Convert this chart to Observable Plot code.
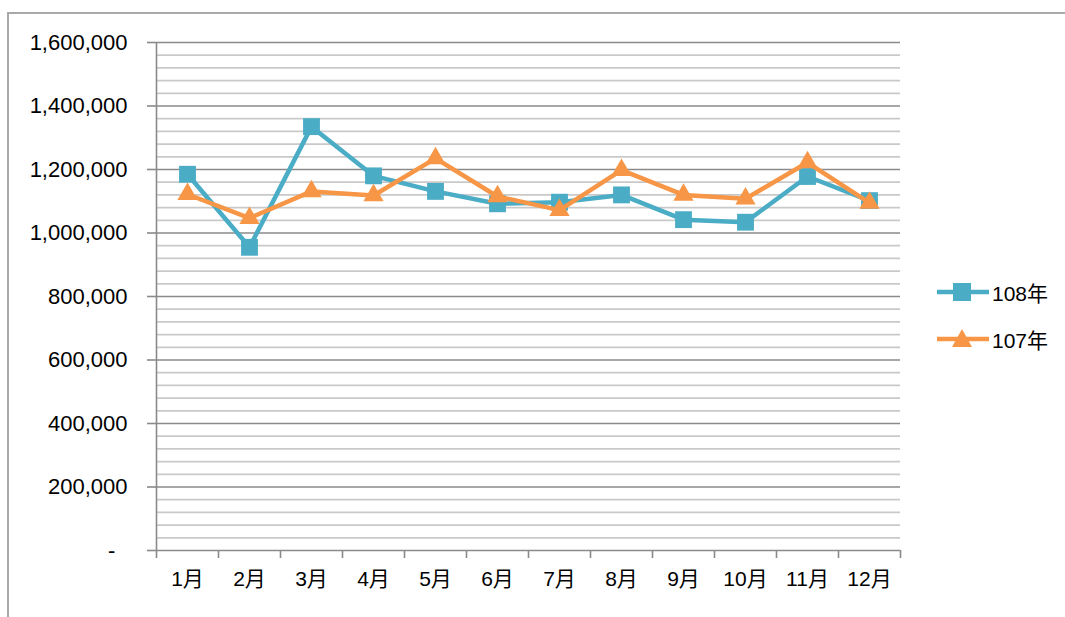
<!DOCTYPE html>
<html>
<head>
<meta charset="utf-8">
<script src="https://cdn.jsdelivr.net/npm/d3@7"></script>
<script src="https://cdn.jsdelivr.net/npm/@observablehq/plot@0.6"></script>
<style>
  html, body { margin: 0; padding: 0; background: #fff; }
  body { width: 1065px; height: 617px; overflow: hidden; position: relative; font-family: "Liberation Sans", Arial, sans-serif; }
  #frame { position: absolute; left: 7px; top: 12px; width: 1200px; height: 800px; border: 2px solid #a9a9a9; box-sizing: border-box; }
  #chart { position: absolute; left: 0; top: 0; }
  #legend { position: absolute; left: 936px; top: 268px; }
  .item { position: relative; height: 47px; display: flex; align-items: center; }
  .item span { font-family: "Liberation Sans", "Noto Sans CJK TC", sans-serif; font-size: 21px; color: #000; margin-left: 2px; }
  .item svg { display: block; }
</style>
</head>
<body>
<div id="frame"></div>
<div id="chart"></div>
<div id="legend"></div>
<script>
const months = ["1月","2月","3月","4月","5月","6月","7月","8月","9月","10月","11月","12月"];
const seriesNames = ["108年", "107年"];
const values108 = [1185000, 955000, 1335000, 1180000, 1131000, 1092000, 1097000, 1120000, 1042000, 1034000, 1178000, 1102000];
const values107 = [1122000, 1047000, 1131000, 1118000, 1235000, 1115000, 1072000, 1198000, 1120000, 1108000, 1222000, 1095000];
const majorTicks = [0, 200000, 400000, 600000, 800000, 1000000, 1200000, 1400000, 1600000];
const minorTicks = d3.range(0, 1600001, 40000).filter(v => v % 200000 !== 0);
const colors = ["#4bacc6", "#f79646"];

const d108 = months.map((m, i) => ({month: m, value: values108[i]}));
const d107 = months.map((m, i) => ({month: m, value: values107[i]}));

const axisColor = "#8a8a8a";
const cjk = "'Liberation Sans', 'Noto Sans CJK TC', sans-serif";

const chart = Plot.plot({
  width: 1065,
  height: 617,
  marginLeft: 156,
  marginRight: 165,
  marginTop: 42,
  marginBottom: 67,
  style: { fontFamily: "'Liberation Sans', Arial, sans-serif", fontSize: "22px", color: "#000", background: "transparent", overflow: "visible" },
  x: { type: "point", domain: months, padding: 0.5, label: null },
  y: { domain: [0, 1600000], label: null },
  marks: [
    Plot.ruleY(minorTicks, { stroke: "#c9c9c9", strokeWidth: 1.8 }),
    Plot.ruleY(majorTicks, { stroke: axisColor, strokeWidth: 1.6 }),
    Plot.axisY({ ticks: majorTicks, tickSize: 9, tickPadding: 20, stroke: axisColor, strokeWidth: 1.6, fill: "#000", fontSize: 22,
      tickFormat: v => v === 0 ? "-\u00a0\u00a0" : d3.format(",")(v) }),
    Plot.ruleX([months[0]], { dx: -31, stroke: axisColor, strokeWidth: 1.6 }),
    Plot.axisX({ ticks: months, tickSize: 8, tickFormat: () => "", dx: -31, stroke: axisColor, strokeWidth: 1.6 }),
    Plot.axisX({ ticks: [months[11]], tickSize: 8, tickFormat: () => "", dx: 31, stroke: axisColor, strokeWidth: 1.6 }),
    Plot.axisX({ ticks: months, tickSize: 0, tickPadding: 21, fontSize: 21, fontFamily: cjk, fill: "#000" }),
    Plot.line(d108, { x: "month", y: "value", stroke: colors[0], strokeWidth: 4.5 }),
    Plot.dot(d108, { x: "month", y: "value", symbol: "square", r: 9.5, fill: colors[0], stroke: "none" }),
    Plot.line(d107, { x: "month", y: "value", stroke: colors[1], strokeWidth: 4.5 }),
    Plot.dot(d107, { x: "month", y: "value", symbol: "triangle", r: 7.5, fill: colors[1], stroke: "none" })
  ]
});
document.getElementById("chart").appendChild(chart);

// Legend
const legend = document.getElementById("legend");
seriesNames.forEach((name, i) => {
  const item = document.createElement("div");
  item.className = "item";
  const sym = i === 0
    ? `<rect x="17" y="14" width="18" height="18" fill="${colors[0]}"/>`
    : `<path d="M26 13 L36 31 L16 31 Z" fill="${colors[1]}"/>`;
  item.innerHTML = `<svg width="54" height="46"><line x1="1" x2="53" y1="23" y2="23" stroke="${colors[i]}" stroke-width="4.5"/>${sym}</svg><span>${name}</span>`;
  legend.appendChild(item);
});
</script>
</body>
</html>
